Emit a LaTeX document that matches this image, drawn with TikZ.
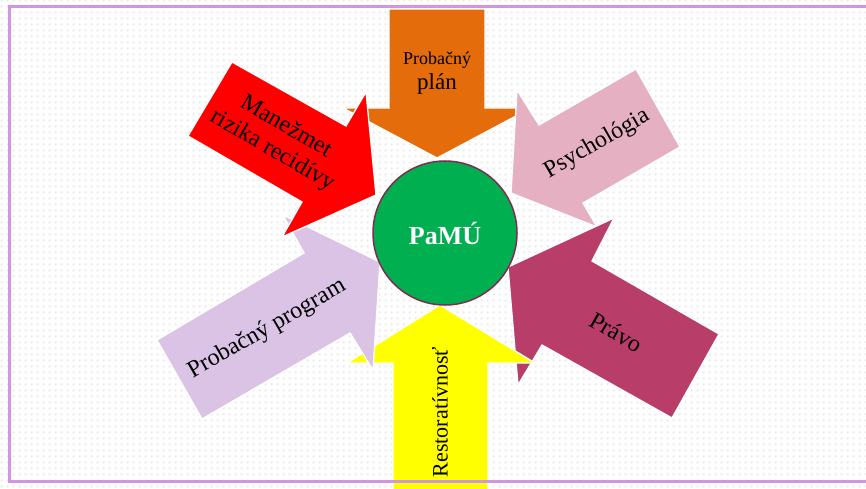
\documentclass[tikz,border=0pt]{standalone}
\usepackage{fontspec}
\setmainfont{Liberation Serif}
\usetikzlibrary{patterns}
\pgfdeclarepatternformonly{bgdots}{\pgfqpoint{0pt}{0pt}}{\pgfqpoint{6pt}{6pt}}{\pgfqpoint{6pt}{6pt}}{\pgfpathrectangle{\pgfqpoint{2pt}{2pt}}{\pgfqpoint{2.2pt}{2.2pt}}\pgfusepath{fill}}
\definecolor{cOrange}{RGB}{228,108,10}
\definecolor{cRed}{RGB}{255,0,0}
\definecolor{cPink}{RGB}{229,176,193}
\definecolor{cMaroon}{RGB}{184,61,104}
\definecolor{cLav}{RGB}{218,195,228}
\definecolor{cYellow}{RGB}{255,255,0}
\definecolor{cGreen}{RGB}{0,176,80}
\definecolor{cRim}{RGB}{125,45,80}
\definecolor{cFrame}{RGB}{208,150,226}
\begin{document}
\begin{tikzpicture}[x=1pt,y=-1pt,
  arrowshape/.style={draw=white,line width=1.3pt,line join=miter},
  lbl/.style={font=\fontsize{24}{26}\selectfont,text=black,align=center,inner sep=0pt}]
\useasboundingbox (0,0) rectangle (866,489);
\clip (0,0) rectangle (866,489);
\fill[white] (0,0) rectangle (866,489);
\fill[pattern=bgdots,pattern color=black!8] (0,0) rectangle (866,489);
% orange (top)
\filldraw[arrowshape,fill=cOrange] (389,9) -- (485,9) -- (485,108) -- (531,108) -- (437,158) -- (343,108) -- (389,108) -- cycle;
% pink (upper right)
\filldraw[arrowshape,fill=cPink] (511,193) -- (517,90) -- (539,125) -- (636,69) -- (680,147) -- (583,203) -- (597,227) -- cycle;
% maroon (lower right)
\filldraw[arrowshape,fill=cMaroon] (508,267) -- (614,218) -- (592,261) -- (719,334) -- (672,418) -- (542,345) -- (518,385) -- cycle;
% yellow (bottom)
\filldraw[arrowshape,fill=cYellow] (440,305) -- (535,363) -- (488,363) -- (488,520) -- (393,520) -- (393,363) -- (347,363) -- cycle;
% lavender (lower left)
\filldraw[arrowshape,fill=cLav] (380,262) -- (373,370) -- (350,333) -- (202,419) -- (157,340) -- (304,253) -- (283,215) -- cycle;
% red (upper left)
\filldraw[arrowshape,fill=cRed] (376,195) -- (282,237) -- (302,202) -- (188,136) -- (232,62) -- (346,126) -- (366,92) -- cycle;
% frame
\draw[cFrame,line width=2.2pt] (880,6.5) -- (9.5,6.5) -- (9.5,481.5) -- (880,481.5);
% labels
\node[lbl,font=\fontsize{18}{20}\selectfont] (plan1) at (437,60) {Probačný};
\node[lbl,font=\fontsize{23}{25}\selectfont] (plan2) at (437,84) {plán};
\node[lbl,font=\fontsize{24}{27}\selectfont,rotate=-30] (risk) at (279,139) {Manežmet\\rizika recidívy};
\node[lbl,rotate=30] (psy) at (597,144) {Psychológia};
\node[lbl,rotate=30] (prog) at (267,329) {Probačný program};
\node[lbl,rotate=-30] (pravo) at (616,332) {Právo};
\node[lbl,font=\fontsize{22}{24}\selectfont,rotate=90] (rest) at (440,412) {Restoratívnosť};
% centre
\node[circle,fill=cGreen,draw=cRim,line width=1.5pt,minimum size=144pt,inner sep=0pt,
  text=white,font=\bfseries\fontsize{26}{28}\selectfont] (pamu) at (445,233) {PaMÚ};
\end{tikzpicture}
\end{document}
